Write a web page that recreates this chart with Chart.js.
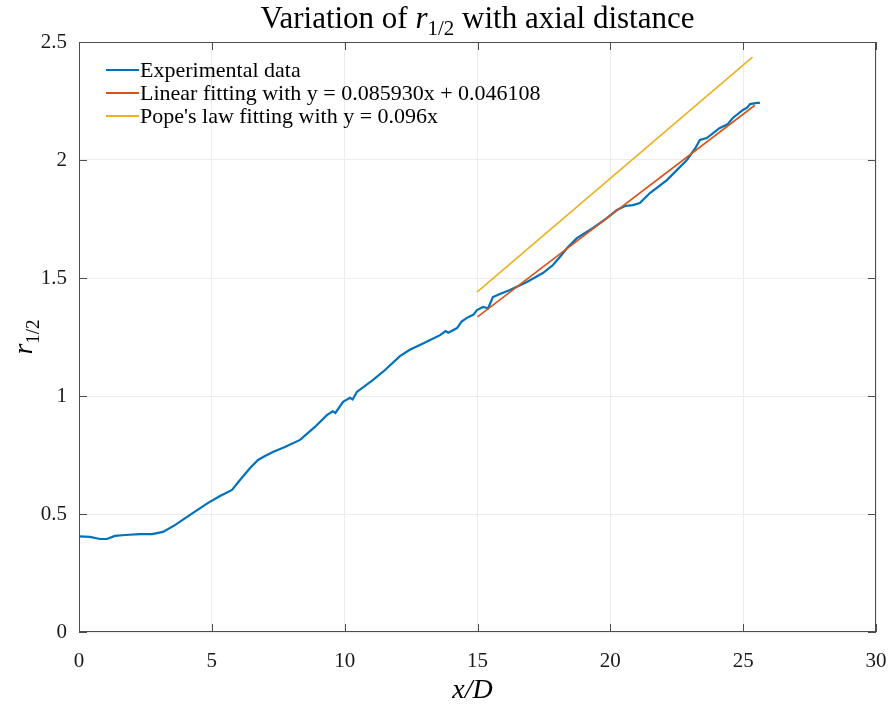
<!DOCTYPE html>
<html>
<head>
<meta charset="utf-8">
<script src="https://cdn.jsdelivr.net/npm/chart.js@4.4.0/dist/chart.umd.min.js"></script>
<style>
html,body{margin:0;padding:0;background:#fff;}
#wrap{width:888px;height:709px;position:relative;}
</style>
</head>
<body>
<div id="wrap"><canvas id="c" width="888" height="709"></canvas></div>
<script>
// ---- data ----
const expX = [0, 0.41, 0.79, 1.05, 1.35, 1.73, 2.30, 2.75, 3.16, 3.61, 4.18, 4.86, 5.31, 5.76, 6.06, 6.44, 6.74, 7.00, 7.30, 7.75, 8.32, 8.88, 9.33, 9.55, 9.65, 9.94, 10.20, 10.30, 10.46, 11.07, 11.52, 12.08, 12.45, 12.83, 13.20, 13.59, 13.80, 13.90, 14.23, 14.40, 14.60, 14.85, 14.98, 15.21, 15.40, 15.58, 15.80, 16.22, 16.86, 17.46, 17.84, 18.10, 18.40, 18.74, 19.35, 19.87, 20.10, 20.25, 20.55, 20.85, 21.11, 21.49, 22.13, 22.88, 23.20, 23.37, 23.63, 24.12, 24.40, 24.61, 24.99, 25.15, 25.26, 25.52, 25.63];
const expY = [0.405, 0.403, 0.394, 0.394, 0.407, 0.411, 0.415, 0.415, 0.424, 0.453, 0.496, 0.547, 0.576, 0.602, 0.644, 0.695, 0.729, 0.746, 0.763, 0.784, 0.814, 0.869, 0.919, 0.935, 0.928, 0.975, 0.992, 0.985, 1.017, 1.068, 1.110, 1.169, 1.196, 1.216, 1.236, 1.258, 1.275, 1.268, 1.288, 1.315, 1.331, 1.345, 1.364, 1.377, 1.372, 1.419, 1.430, 1.449, 1.483, 1.521, 1.555, 1.589, 1.630, 1.669, 1.712, 1.754, 1.775, 1.788, 1.805, 1.809, 1.818, 1.860, 1.915, 2.000, 2.050, 2.085, 2.093, 2.136, 2.150, 2.178, 2.212, 2.222, 2.237, 2.242, 2.242];
const linX = [15, 25.44];
const linY = [1.335, 2.232];
const popeX = [14.98, 25.35];
const popeY = [1.44, 2.436];
const xTicks = [0, 5, 10, 15, 20, 25, 30];
const yTicks = [0, 0.5, 1, 1.5, 2, 2.5];
const labels = ['Experimental data', 'Linear fitting with y = 0.085930x + 0.046108', "Pope's law fitting with y = 0.096x"];
const colors = ['#0072BD', '#D95319', '#EDB120'];

const pts = (xs, ys) => xs.map((x, i) => ({x: x, y: ys[i]}));
const SERIF = '"Liberation Serif", "DejaVu Serif", serif';

const decor = {
  id: 'decor',
  afterDraw(chart) {
    const ctx = chart.ctx, a = chart.chartArea;
    const xs = chart.scales.x, ys = chart.scales.y;
    ctx.save();
    // box
    ctx.strokeStyle = '#4d4d4d';
    ctx.lineWidth = 1;
    ctx.strokeRect(Math.round(a.left) + 0.5, Math.round(a.top) + 0.5, Math.round(a.right - a.left) - 1, Math.round(a.bottom - a.top) - 1);
    // inward ticks
    ctx.beginPath();
    xTicks.forEach(v => {
      const p = Math.round(xs.getPixelForValue(v)) + 0.5;
      ctx.moveTo(p, a.bottom); ctx.lineTo(p, a.bottom - 8);
      ctx.moveTo(p, a.top); ctx.lineTo(p, a.top + 8);
    });
    yTicks.forEach(v => {
      const p = Math.round(ys.getPixelForValue(v)) + 0.5;
      ctx.moveTo(a.left, p); ctx.lineTo(a.left + 8, p);
      ctx.moveTo(a.right, p); ctx.lineTo(a.right - 8, p);
    });
    ctx.stroke();

    // title with subscript
    const cx = (a.left + a.right) / 2;
    const parts = [
      {t: 'Variation of ', f: '31px ' + SERIF, dy: 0},
      {t: 'r', f: 'italic 31px ' + SERIF, dy: 0},
      {t: '1/2', f: '21px ' + SERIF, dy: 7},
      {t: ' with axial distance', f: '31px ' + SERIF, dy: 0}
    ];
    let tw = 0;
    parts.forEach(p => { ctx.font = p.f; p.w = ctx.measureText(p.t).width; tw += p.w; });
    let px = cx - tw / 2;
    ctx.fillStyle = '#000';
    ctx.textBaseline = 'alphabetic';
    ctx.textAlign = 'left';
    parts.forEach(p => { ctx.font = p.f; ctx.fillText(p.t, px, 28 + p.dy); px += p.w; });

    // x axis title
    ctx.font = 'italic 28px ' + SERIF;
    ctx.textAlign = 'center';
    ctx.fillText('x/D', cx - 5, 698);

    // y axis title rotated
    ctx.save();
    ctx.translate(32, (a.top + a.bottom) / 2);
    ctx.rotate(-Math.PI / 2);
    const yp = [
      {t: 'r', f: 'italic 28px ' + SERIF, dy: 0},
      {t: '1/2', f: '19px ' + SERIF, dy: 7}
    ];
    let yw = 0;
    yp.forEach(p => { ctx.font = p.f; p.w = ctx.measureText(p.t).width; yw += p.w; });
    let yx = -yw / 2;
    ctx.textAlign = 'left';
    yp.forEach(p => { ctx.font = p.f; ctx.fillText(p.t, yx, p.dy); yx += p.w; });
    ctx.restore();

    // legend inside
    ctx.font = '22px ' + SERIF;
    ctx.textBaseline = 'middle';
    ctx.textAlign = 'left';
    const lx0 = a.left + 27, rows = [70, 93, 116];
    chart.data.datasets.forEach((ds, i) => {
      ctx.strokeStyle = ds.borderColor;
      ctx.lineWidth = 2;
      ctx.beginPath();
      ctx.moveTo(lx0, rows[i]); ctx.lineTo(lx0 + 33, rows[i]);
      ctx.stroke();
      ctx.fillStyle = '#000';
      ctx.fillText(ds.label, lx0 + 34, rows[i] + 1);
    });
    ctx.restore();
  }
};

new Chart(document.getElementById('c'), {
  type: 'scatter',
  data: {
    datasets: [
      {label: labels[0], data: pts(expX, expY), showLine: true, borderColor: colors[0], backgroundColor: colors[0], borderWidth: 2.2, pointRadius: 0, tension: 0, order: 3},
      {label: labels[1], data: pts(linX, linY), showLine: true, borderColor: colors[1], backgroundColor: colors[1], borderWidth: 1.6, pointRadius: 0, order: 2},
      {label: labels[2], data: pts(popeX, popeY), showLine: true, borderColor: colors[2], backgroundColor: colors[2], borderWidth: 1.6, pointRadius: 0, order: 1}
    ]
  },
  options: {
    responsive: false,
    animation: false,
    layout: {padding: {left: 0, right: 12, top: 42, bottom: 0}},
    plugins: {legend: {display: false}, title: {display: false}, tooltip: {enabled: false}},
    scales: {
      x: {
        type: 'linear', min: 0, max: 30,
        afterBuildTicks: s => { s.ticks = xTicks.map(v => ({value: v})); },
        afterFit: s => { s.height = 77; s.paddingRight = 0; s.paddingLeft = 0; },
        grid: {color: '#ececec', drawTicks: false, lineWidth: 1},
        border: {display: false},
        ticks: {padding: 17, color: '#1a1a1a', font: {family: SERIF, size: 21}, maxRotation: 0, callback: v => String(v)}
      },
      y: {
        type: 'linear', min: 0, max: 2.5,
        afterBuildTicks: s => { s.ticks = yTicks.map(v => ({value: v})); },
        afterFit: s => { s.width = 79; s.paddingTop = 0; s.paddingBottom = 0; },
        grid: {color: '#ececec', drawTicks: false, lineWidth: 1},
        border: {display: false},
        ticks: {padding: 12, color: '#1a1a1a', font: {family: SERIF, size: 21}, callback: v => String(v)}
      }
    }
  },
  plugins: [decor]
});
</script>
</body>
</html>
